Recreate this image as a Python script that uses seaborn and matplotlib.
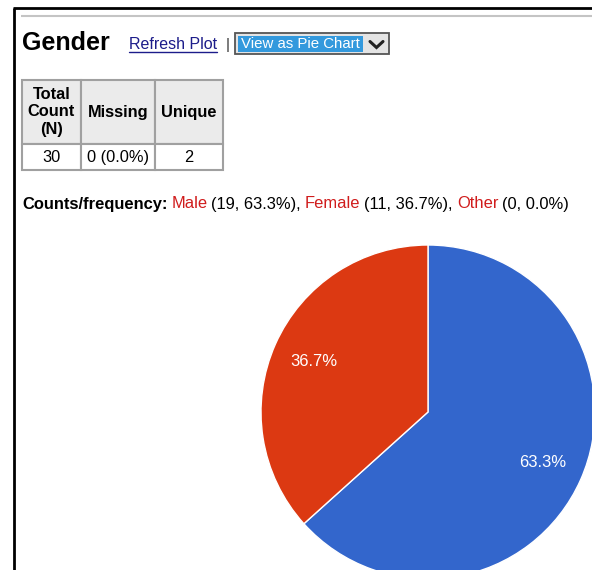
import numpy as np
import pandas as pd
import seaborn as sns
import matplotlib.pyplot as plt
from matplotlib.patches import Rectangle

# Data
categories = ['Male', 'Female', 'Other']
counts = [19, 11, 0]
missing = 0
slice_colors = ['#3366cc', '#dc3912', '#ff9900']
table_header = ['Total\nCount\n(N)', 'Missing', 'Unique']

df = pd.DataFrame({'category': categories, 'count': counts, 'color': slice_colors})
total = df['count'].sum()
df['pct'] = df['count'] / total * 100
table_row = [str(total), f"{missing} ({missing / total * 100:.1f}%)", str((df['count'] > 0).sum())]

sns.set_theme(style='white')
plt.rcParams['font.family'] = ['Liberation Sans', 'DejaVu Sans']
plt.rcParams['text.color'] = 'black'

W, H = 592, 570
fig = plt.figure(figsize=(W / 100, H / 100), dpi=100)

# full-page axes in pixel units for the page decorations
bg = fig.add_axes([0, 0, 1, 1])
bg.set_xlim(0, W)
bg.set_ylim(H, 0)
bg.axis('off')

# page frame
bg.plot([13, W], [8, 8], color='black', lw=2, solid_capstyle='butt')
bg.plot([14, 14], [8, H], color='black', lw=2, solid_capstyle='butt')
bg.plot([21, W], [16, 16], color='#c4c4c4', lw=1.5, solid_capstyle='butt')

# title row
bg.text(22, 50, 'Gender', fontsize=18, fontweight='bold', va='baseline')
link = bg.text(129, 49, 'Refresh Plot', fontsize=11.5, color='#1c1c8a', va='baseline')
bg.text(226, 49, '|', fontsize=11, color='#333333', va='baseline')

fig.canvas.draw()
renderer = fig.canvas.get_renderer()
ext = link.get_window_extent(renderer)
bg.plot([ext.x0, ext.x1], [51.5, 51.5], color='#1c1c8a', lw=1)

# dropdown
bg.add_patch(Rectangle((235, 33), 154, 21, facecolor='#e4e4e4', edgecolor='#555555', lw=1.3))
bg.add_patch(Rectangle((238, 36), 125, 16, facecolor='#3399dd', edgecolor='none'))
bg.text(241, 48.5, 'View as Pie Chart', fontsize=10.8, color='white', va='baseline')
bg.plot([370, 376.5, 383], [41.5, 47.5, 41.5], color='#222222', lw=2.2, solid_joinstyle='miter')

# summary table
ax_tab = fig.add_axes([22 / W, 1 - 170.5 / H, 201 / W, 90.5 / H])
ax_tab.axis('off')
col_w = np.array([59, 73.5, 68.5])
col_w = col_w / col_w.sum()
tab = ax_tab.table(cellText=[table_row], colLabels=table_header, colWidths=list(col_w),
                   cellLoc='center', bbox=[0, 0, 1, 1])
tab.auto_set_font_size(False)
tab.set_fontsize(11.8)
for (row, col), cell in tab.get_celld().items():
    cell.set_edgecolor('#a0a0a0')
    cell.set_linewidth(1.5)
    cell.get_text().set_color('black')
    if row == 0:
        cell.set_height(64 / 90.5)
        cell.set_facecolor('#ebebeb')
        cell.get_text().set_fontweight('bold')
        cell.get_text().set_linespacing(1.22)
    else:
        cell.set_height(26.5 / 90.5)
        cell.set_facecolor('white')

# counts/frequency line, built piece by piece
fs = 11.9
a = bg.text(0, -50, 'a a', fontsize=fs)
b = bg.text(0, -50, 'aa', fontsize=fs)
space = a.get_window_extent(renderer).width - b.get_window_extent(renderer).width
a.remove()
b.remove()

pieces = [('Counts/frequency:', 'black', 'bold')]
for i, r in df.iterrows():
    sep = ',' if i < len(df) - 1 else ''
    pieces.append((r['category'], '#d01c1c', 'normal'))
    pieces.append((f"({r['count']}, {r['pct']:.1f}%){sep}", 'black', 'normal'))

x = 22
for txt, col, wt in pieces:
    t = bg.text(x, 208.5, txt, fontsize=fs, color=col, fontweight=wt, va='baseline')
    x += t.get_window_extent(renderer).width + space * 0.85

# pie chart
cx, cy, rad = 428, 412, 167
ax_pie = fig.add_axes([(cx - rad) / W, 1 - (cy + rad) / H, 2 * rad / W, 2 * rad / H])
shown = df[df['count'] > 0]
wedges, texts, autotexts = ax_pie.pie(
    shown['count'], colors=shown['color'], startangle=90, counterclock=False,
    autopct='%1.1f%%', pctdistance=0.75,
    wedgeprops=dict(edgecolor='white', linewidth=1),
    textprops=dict(color='white', fontsize=12))
for w in wedges:
    w.set_clip_on(False)
ax_pie.set_xlim(-1, 1)
ax_pie.set_ylim(-1, 1)
ax_pie.set_aspect('equal')
ax_pie.axis('off')

fig.savefig('out.png', dpi=100)
